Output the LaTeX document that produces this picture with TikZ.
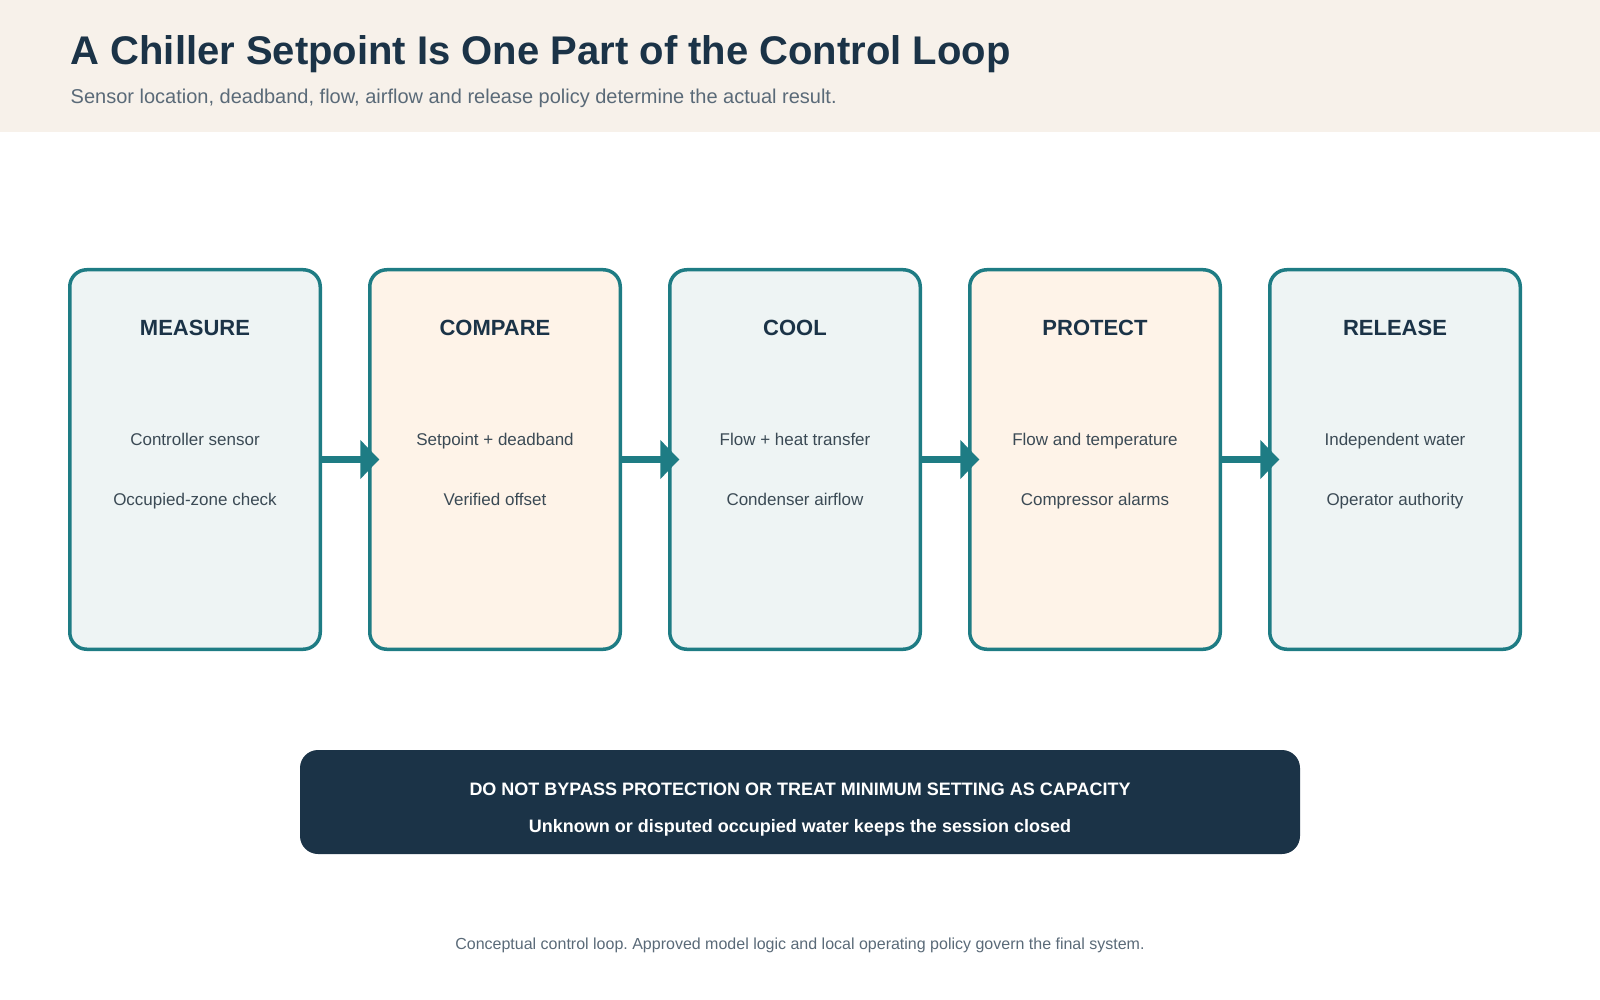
\documentclass[tikz,border=0pt]{standalone}
\usepackage{fontspec}
\usepackage{xcolor}
\setmainfont{Liberation Sans}
\usetikzlibrary{positioning,arrows.meta}
\frenchspacing

\definecolor{ink}{HTML}{1B3347}
\definecolor{slate}{HTML}{5A6A78}
\definecolor{bodygrey}{HTML}{3B4A55}
\definecolor{band}{HTML}{F7F1EA}
\definecolor{tealline}{HTML}{1E7C84}
\definecolor{coolfill}{HTML}{EEF4F4}
\definecolor{warmfill}{HTML}{FEF3E8}

\begin{document}
\begin{tikzpicture}[x=1pt,y=-1pt,node distance=46pt,
   cool stage/.style={draw=tealline,line width=3.5pt,fill=coolfill,rounded corners=17pt,
     minimum width=250.5pt,minimum height=379.5pt},
   warm stage/.style={cool stage,fill=warmfill},
   stage title/.style={anchor=base,inner sep=0pt,text=ink,font=\bfseries\fontsize{22}{26}\selectfont},
   stage line/.style={anchor=base,inner sep=0pt,text=bodygrey,font=\fontsize{17}{20}\selectfont},
   flow arrow/.style={draw=tealline,line width=7pt,-{Triangle[length=19pt,width=38pt]}},
   warning line/.style={anchor=base,inner sep=0pt,text=white,font=\bfseries\fontsize{18}{21}\selectfont}]

  \useasboundingbox (0,0) rectangle (1600,1000);
  \fill[band] (0,0) rectangle (1600,132);

  \node[anchor=base west,inner sep=0pt,text=ink,font=\bfseries\fontsize{40}{46}\selectfont]
    (title) at (70.5,64.3) {A Chiller Setpoint Is One Part of the Control Loop};
  \node[anchor=base west,inner sep=0pt,text=slate,font=\fontsize{20}{23}\selectfont]
    (subtitle) at (70.5,103.3) {Sensor location, deadband, flow, airflow and release policy determine the actual result.};

  \node[cool stage] (measure) at (195,459.5) {};
  \node[warm stage, right=of measure] (compare) {};
  \node[cool stage, right=of compare] (cool) {};
  \node[warm stage, right=of cool] (protect) {};
  \node[cool stage, right=of protect] (release) {};

  \foreach \s/\t/\a/\b in {measure/MEASURE/Controller sensor/Occupied-zone check,
      compare/COMPARE/Setpoint + deadband/Verified offset,
      cool/COOL/Flow + heat transfer/Condenser airflow,
      protect/PROTECT/Flow and temperature/Compressor alarms,
      release/RELEASE/Independent water/Operator authority} {
    \node[stage title] (\s-title) at ([yshift=-67.7pt]\s.north) {\t};
    \node[stage line] (\s-a) at ([yshift=-177pt]\s.north) {\a};
    \node[stage line] (\s-b) at ([yshift=-237pt]\s.north) {\b};
  }

  \foreach \from/\to in {measure/compare,compare/cool,cool/protect,protect/release}
    \draw[flow arrow] (\from.east) -- ([xshift=11.3pt]\to.west);

  \node[fill=ink,rounded corners=18pt,minimum width=1000pt,minimum height=104pt] (warning) at (800,802) {};
  \node[warning line] (warning-a) at (800,795) {DO NOT BYPASS PROTECTION OR TREAT MINIMUM SETTING AS CAPACITY};
  \node[warning line] (warning-b) at (800,832.7) {Unknown or disputed occupied water keeps the session closed};

  \node[anchor=base,inner sep=0pt,text=slate,font=\fontsize{16}{19}\selectfont]
    (footer) at (800,949.3) {Conceptual control loop. Approved model logic and local operating policy govern the final system.};
\end{tikzpicture}
\end{document}
